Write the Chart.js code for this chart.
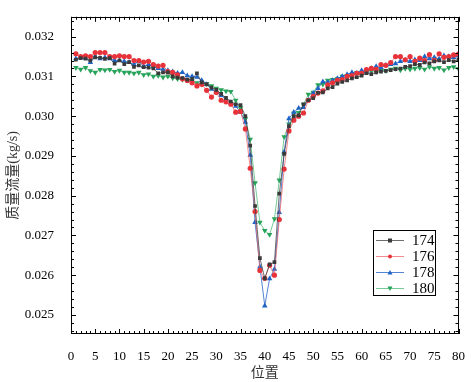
<!DOCTYPE html>
<html>
<head>
<meta charset="utf-8">
<script src="https://cdn.jsdelivr.net/npm/chart.js@4/dist/chart.umd.min.js"></script>
<style>html,body{margin:0;padding:0;background:#fff;}canvas{display:block;}</style>
</head>
<body>
<canvas id="c" width="472" height="382"></canvas>
<script>
const positions = [1,2,3,4,5,6,7,8,9,10,11,12,13,14,15,16,17,18,19,20,21,22,23,24,25,26,27,28,29,30,31,32,33,34,35,36,37,38,39,40,41,42,43,44,45,46,47,48,49,50,51,52,53,54,55,56,57,58,59,60,61,62,63,64,65,66,67,68,69,70,71,72,73,74,75,76,77,78,79,80];
const seriesNames = ['174','176','178','180'];
const s174 = [0.03142,0.03146,0.03145,0.03140,0.03148,0.03147,0.03144,0.03146,0.03132,0.03140,
0.03131,0.03136,0.03124,0.03128,0.03123,0.03122,0.03120,0.03108,0.03110,0.03110,
0.03100,0.03097,0.03096,0.03092,0.03093,0.03108,0.03085,0.03080,0.03072,0.03066,
0.03056,0.03046,0.03037,0.03030,0.03028,0.03000,0.02926,0.02774,0.02643,0.02592,
0.02627,0.02633,0.02805,0.02905,0.02975,0.03000,0.03002,0.03030,0.03040,0.03045,
0.03059,0.03060,0.03070,0.03073,0.03082,0.03086,0.03090,0.03095,0.03098,0.03102,
0.03108,0.03106,0.03110,0.03112,0.03114,0.03116,0.03118,0.03120,0.03124,0.03126,
0.03131,0.03129,0.03135,0.03133,0.03138,0.03140,0.03136,0.03141,0.03138,0.03143];
const s176 = [0.03157,0.03150,0.03152,0.03150,0.03160,0.03160,0.03160,0.03150,0.03150,0.03152,
0.03150,0.03150,0.03140,0.03140,0.03136,0.03138,0.03130,0.03126,0.03128,0.03112,
0.03110,0.03104,0.03094,0.03090,0.03084,0.03076,0.03080,0.03065,0.03048,0.03060,
0.03040,0.03036,0.03030,0.03010,0.03012,0.02968,0.02869,0.02760,0.02612,0.02592,
0.02625,0.02600,0.02740,0.02867,0.02963,0.02990,0.03000,0.03008,0.03040,0.03050,
0.03058,0.03064,0.03079,0.03084,0.03090,0.03092,0.03100,0.03102,0.03108,0.03108,
0.03117,0.03120,0.03118,0.03130,0.03128,0.03135,0.03150,0.03150,0.03142,0.03150,
0.03138,0.03146,0.03140,0.03155,0.03140,0.03157,0.03148,0.03150,0.03154,0.03156];
const s178 = [0.03145,0.03148,0.03146,0.03135,0.03150,0.03145,0.03148,0.03145,0.03140,0.03140,
0.03138,0.03135,0.03130,0.03138,0.03125,0.03130,0.03126,0.03120,0.03118,0.03115,
0.03112,0.03108,0.03110,0.03102,0.03100,0.03098,0.03090,0.03080,0.03068,0.03060,
0.03052,0.03042,0.03034,0.03025,0.03010,0.02985,0.02902,0.02733,0.02621,0.02523,
0.02591,0.02615,0.02758,0.02910,0.02994,0.03010,0.03020,0.03022,0.03040,0.03058,
0.03070,0.03087,0.03085,0.03090,0.03095,0.03100,0.03105,0.03110,0.03108,0.03115,
0.03112,0.03120,0.03125,0.03122,0.03128,0.03130,0.03132,0.03138,0.03140,0.03138,
0.03142,0.03140,0.03150,0.03145,0.03148,0.03144,0.03152,0.03150,0.03148,0.03152];
const s180 = [0.03122,0.03118,0.03122,0.03114,0.03110,0.03117,0.03116,0.03117,0.03112,0.03115,
0.03110,0.03110,0.03108,0.03110,0.03104,0.03106,0.03100,0.03102,0.03098,0.03100,
0.03096,0.03094,0.03092,0.03090,0.03088,0.03084,0.03080,0.03082,0.03076,0.03070,
0.03066,0.03063,0.03062,0.03040,0.03020,0.02993,0.02942,0.02832,0.02733,0.02712,
0.02702,0.02742,0.02839,0.02948,0.02980,0.03007,0.03009,0.03030,0.03055,0.03060,
0.03079,0.03080,0.03090,0.03092,0.03094,0.03100,0.03102,0.03104,0.03109,0.03108,
0.03112,0.03114,0.03112,0.03116,0.03114,0.03118,0.03120,0.03116,0.03120,0.03118,
0.03120,0.03122,0.03118,0.03124,0.03120,0.03122,0.03116,0.03122,0.03124,0.03119];
const xTicks = [0,5,10,15,20,25,30,35,40,45,50,55,60,65,70,75,80];
const yTicks = [0.025,0.026,0.027,0.028,0.029,0.030,0.031,0.032];
const xTitle = '位置';
const yTitle = '质量流量(kg/s)';

const styles = [
  {line:'rgba(60,60,60,0.75)', pt:'#3a3a3a', shape:'rect', r:2.6, rot:0},
  {line:'rgba(240,90,95,0.7)', pt:'#e8333b', shape:'circle', r:2.6, rot:0},
  {line:'rgba(40,100,200,0.8)', pt:'#1f63c6', shape:'triangle', r:3.2, rot:0},
  {line:'rgba(60,180,110,0.7)', pt:'#27a35a', shape:'triangle', r:3.2, rot:180}
];
const allSeries = [s174,s176,s178,s180];
const datasets = allSeries.map((s,k)=>({
  label: seriesNames[k],
  data: positions.map((p,i)=>({x:p,y:s[i]})),
  borderColor: styles[k].line,
  backgroundColor: styles[k].pt,
  borderWidth: 1,
  pointStyle: styles[k].shape,
  pointRotation: styles[k].rot,
  pointRadius: styles[k].r,
  pointBackgroundColor: styles[k].pt,
  pointBorderColor: styles[k].pt,
  pointBorderWidth: 0,
  tension: 0
}));

const FONT = '"Liberation Serif", "Times New Roman", serif';
const CJK = '"Liberation Serif", "Noto Sans CJK SC", serif';

const framePlugin = {
  id:'frame',
  afterDraw(chart){
    const ctx = chart.ctx, a = chart.chartArea;
    const xs = chart.scales.x, ys = chart.scales.y;
    ctx.save();
    ctx.strokeStyle = '#000';
    ctx.lineWidth = 1;
    ctx.strokeRect(Math.round(a.left)+0.5, Math.round(a.top)+0.5, Math.round(a.right-a.left)-1, Math.round(a.bottom-a.top)-1);
    ctx.beginPath();
    for (let v = xs.min; v <= xs.max + 1e-9; v += 1) {
      const px = Math.round(xs.getPixelForValue(v)) + 0.5;
      const len = (Math.round(v) % 5 === 0) ? 5 : 3;
      ctx.moveTo(px, a.bottom); ctx.lineTo(px, a.bottom - len);
      ctx.moveTo(px, a.top); ctx.lineTo(px, a.top + len);
    }
    const start = Math.ceil(ys.min / 0.0002 - 1e-6);
    const end = Math.floor(ys.max / 0.0002 + 1e-6);
    for (let k = start; k <= end; k++) {
      const v = k * 0.0002;
      const py = Math.round(ys.getPixelForValue(v)) + 0.5;
      const len = (k % 5 === 0) ? 5 : 3;
      ctx.moveTo(a.left, py); ctx.lineTo(a.left + len, py);
      ctx.moveTo(a.right, py); ctx.lineTo(a.right - len, py);
    }
    ctx.stroke();
    // legend
    const lx = 373, ly = 230, lw = 62, lh = 65;
    ctx.fillStyle = '#fff';
    ctx.fillRect(lx, ly, lw, lh);
    ctx.strokeRect(lx + 0.5, ly + 0.5, lw, lh);
    ctx.font = '15px ' + FONT;
    ctx.textBaseline = 'middle';
    chart.data.datasets.forEach((ds, i) => {
      const y = Math.round(ly + 9.5 + i * 16) + 0.5;
      ctx.strokeStyle = ds.borderColor;
      ctx.beginPath(); ctx.moveTo(lx + 3, y); ctx.lineTo(lx + 31, y); ctx.stroke();
      ctx.fillStyle = ds.pointBackgroundColor;
      ctx.beginPath();
      const st = styles[i];
      if (st.shape === 'rect') { ctx.fillRect(lx + 15, y - 2, 4, 4); }
      else if (st.shape === 'circle') { ctx.arc(lx + 17, y, 2, 0, Math.PI * 2); ctx.fill(); }
      else if (st.rot === 0) { ctx.moveTo(lx + 17, y - 2.5); ctx.lineTo(lx + 19.5, y + 2); ctx.lineTo(lx + 14.5, y + 2); ctx.closePath(); ctx.fill(); }
      else { ctx.moveTo(lx + 17, y + 2.5); ctx.lineTo(lx + 19.5, y - 2); ctx.lineTo(lx + 14.5, y - 2); ctx.closePath(); ctx.fill(); }
      ctx.fillStyle = '#000';
      ctx.fillText(ds.label, lx + 39, y + 1);
    });
    ctx.restore();
  }
};

new Chart(document.getElementById('c'), {
  type: 'line',
  data: { datasets },
  options: {
    responsive: false,
    animation: false,
    devicePixelRatio: 1,
    layout: { padding: { top: 4, right: 10, left: 0, bottom: 0 } },
    plugins: { legend: { display: false }, tooltip: { enabled: false } },
    scales: {
      x: {
        type: 'linear', min: 0, max: 80,
        grid: { display: false }, border: { display: false },
        afterBuildTicks: s => { s.ticks = xTicks.map(v => ({ value: v })); },
        afterFit: s => { s.height = 48; },
        ticks: { color: '#000', font: { family: FONT, size: 13 }, padding: 7, maxRotation: 0, autoSkip: false },
        title: { display: true, text: xTitle, color: '#333', font: { family: CJK, size: 14 }, padding: { top: 0, bottom: 0 } }
      },
      y: {
        type: 'linear', min: 0.02452, max: 0.0325,
        grid: { display: false }, border: { display: false },
        afterBuildTicks: s => { s.ticks = yTicks.map(v => ({ value: v })); },
        afterFit: s => { s.width = 71; },
        ticks: { color: '#000', font: { family: FONT, size: 13 }, padding: 9, callback: v => v.toFixed(3) },
        title: { display: true, text: yTitle, color: '#333', font: { family: CJK, size: 14 }, padding: { top: 5, bottom: 0 } }
      }
    }
  },
  plugins: [framePlugin]
});
</script>
</body>
</html>
